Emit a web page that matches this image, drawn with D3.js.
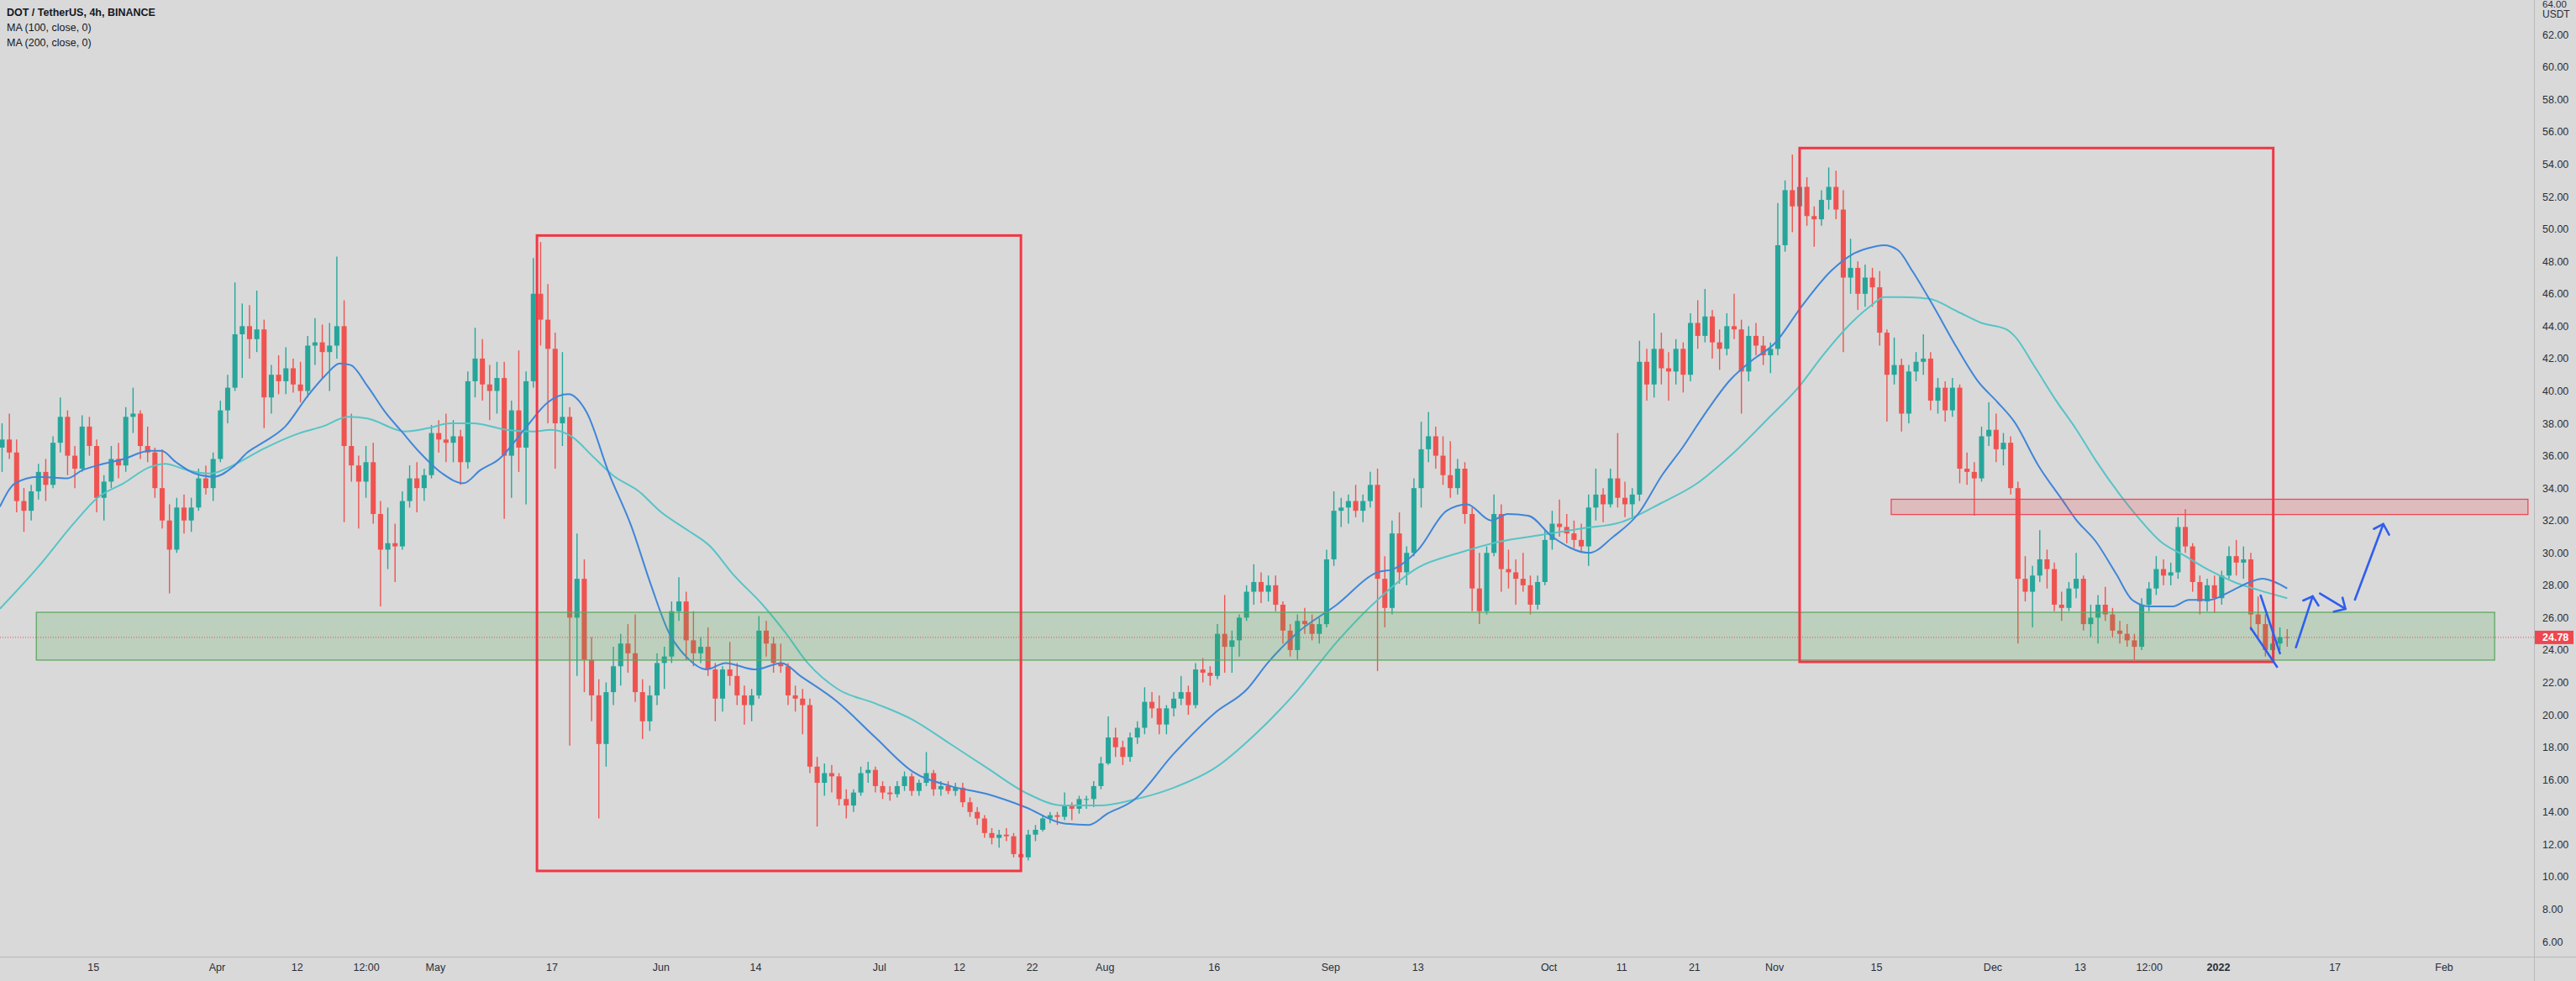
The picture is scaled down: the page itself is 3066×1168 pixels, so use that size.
<!DOCTYPE html>
<html><head><meta charset="utf-8">
<script src="https://cdn.jsdelivr.net/npm/d3@7"></script>
<style>
html,body{margin:0;padding:0;background:#d9d9d9;overflow:hidden}
svg{display:block}
text{font-family:"Liberation Sans",Arial,sans-serif}
</style></head><body>
<svg id="chart" width="3066" height="1168"></svg>
<script>
// ---------------- DATA ----------------
const firstCandle = "2021-03-02";   // daily candles, one per day from here
const openP = [
36.5,37.0,36.2,33.2,32.6,33.8,35.0,34.2,36.8,38.4,36.0,35.2,37.8,36.6,33.4,34.4,35.8,35.4,38.4,38.6,36.6,36.2,34.0,32.0,30.2,32.8,32.0,32.8,34.6,34.0,
35.8,38.8,40.2,43.5,44.0,43.2,43.8,39.6,41.0,40.6,41.4,40.4,40.0,42.8,43.0,42.4,42.8,44.0,36.6,35.4,34.4,35.6,32.4,30.2,30.6,30.4,33.2,34.6,34.0,34.8,
37.4,37.0,36.8,37.2,35.6,40.6,42.0,40.4,40.0,40.8,36.0,38.8,36.5,40.6,46.0,44.4,42.6,38.0,38.4,26.0,28.4,23.4,21.2,18.2,21.4,23.0,24.4,23.8,21.4,19.6,21.2,
23.2,23.6,26.4,27.0,24.6,23.8,24.2,22.8,21.0,22.8,22.4,21.2,20.6,21.2,25.2,24.4,23.2,23.0,21.2,21.0,20.6,16.8,15.8,16.4,16.2,14.8,14.4,15.2,16.4,16.6,
15.6,15.2,15.1,15.6,16.2,15.3,15.8,16.4,15.4,15.6,15.3,15.5,14.6,14.0,13.6,12.7,12.4,12.6,12.5,11.4,11.2,12.6,12.9,13.6,13.8,13.7,14.4,14.2,14.8,14.8,15.6,
17.0,18.6,18.0,17.4,18.6,19.2,20.8,20.4,19.4,20.4,21.0,21.4,20.6,22.8,22.6,22.4,25.0,24.2,24.6,26.0,27.6,28.2,27.6,28.0,26.8,25.2,24.0,25.8,25.6,25.0,25.6,
29.6,32.6,32.8,33.2,32.6,33.2,34.2,28.4,26.6,31.2,28.8,30.0,34.0,36.4,37.2,36.0,34.8,34.0,35.2,32.4,27.8,26.4,30.0,32.4,29.0,28.8,28.4,28.0,26.8,28.2,
30.8,31.8,31.6,31.2,30.8,30.4,32.8,33.6,33.0,34.6,33.4,33.0,33.6,41.8,40.4,42.6,41.4,41.2,42.6,41.0,44.2,43.4,44.6,43.0,42.6,44.0,43.8,41.2,43.4,42.8,42.2,
42.6,49.0,52.4,51.4,52.6,50.8,50.6,51.8,52.6,51.2,47.0,47.6,46.0,47.0,46.4,43.6,41.0,41.6,38.6,41.2,41.8,42.0,39.4,40.2,38.8,40.2,35.2,35.0,34.6,37.2,
37.6,36.4,36.8,34.0,28.4,27.6,28.6,29.6,29.0,26.8,26.6,27.8,28.4,25.6,26.0,26.8,26.2,25.2,25.0,24.6,24.2,26.8,27.8,29.0,28.6,28.8,31.6,30.4,28.2,27.0,28.0,
27.2,28.6,29.8,29.4,29.6,26.2,25.6,24.0,24.4,24.8];
const highP = [
38.0,38.6,37.0,34.0,34.2,35.5,35.8,37.2,39.6,38.8,36.6,38.5,38.4,37.0,34.8,36.6,36.8,39.0,40.2,38.8,37.8,36.5,36.4,33.0,33.4,33.6,33.4,35.2,35.4,36.2,
39.4,41.0,46.7,45.4,45.3,46.2,44.4,41.6,42.2,42.7,42.0,41.8,43.4,44.5,44.1,44.2,48.3,45.6,38.6,36.0,36.6,36.8,33.2,32.8,31.8,33.8,35.4,35.6,35.2,37.9,
38.2,38.6,38.2,37.6,41.2,43.9,43.2,41.6,41.8,41.8,39.4,42.5,41.2,48.2,49.2,46.6,43.6,42.4,39.0,31.2,29.6,24.8,22.2,22.0,24.2,25.0,25.6,26.2,22.2,21.8,23.8,
24.2,27.0,28.5,27.6,26.4,24.8,25.4,23.2,23.0,24.5,23.2,21.8,21.6,26.1,25.8,24.8,24.4,23.2,21.8,21.6,21.0,17.4,17.0,16.9,16.4,15.4,15.4,16.8,17.1,16.8,
15.9,15.6,15.9,16.5,16.4,16.0,17.7,16.6,15.9,15.9,15.8,15.8,14.9,14.3,13.8,13.0,12.9,13.0,12.7,11.8,12.9,13.2,13.8,14.0,14.0,15.2,14.6,15.0,15.0,15.9,17.4,
19.9,19.2,18.4,18.9,19.6,21.7,21.4,21.2,20.6,21.4,22.4,21.8,23.2,23.5,23.0,25.6,27.4,25.2,26.2,28.0,29.3,28.8,28.6,28.6,27.0,25.6,26.2,26.6,26.2,26.0,30.2,
33.8,33.4,33.6,34.2,33.6,35.0,35.2,29.8,32.0,32.5,30.4,34.6,38.1,38.7,37.8,37.2,36.9,35.8,35.6,32.8,30.0,30.4,33.6,33.0,30.2,29.6,30.0,28.6,28.6,31.4,
32.6,33.3,32.4,32.0,31.8,33.6,35.2,34.0,35.2,37.4,34.4,34.0,43.1,42.6,44.8,43.6,42.4,43.2,43.0,44.8,45.6,46.3,45.0,43.8,44.8,46.0,44.4,44.0,44.2,43.4,43.0,
51.6,53.0,54.6,55.0,53.2,51.4,52.4,53.8,53.6,52.4,49.4,48.0,47.8,47.6,47.4,43.8,43.3,42.0,41.6,42.4,43.5,42.4,40.8,40.6,40.8,40.4,36.2,35.6,37.8,39.3,
38.6,37.4,37.2,34.4,29.8,29.2,31.4,30.2,29.4,27.6,28.2,30.0,28.6,26.8,27.4,27.9,26.6,25.8,25.6,25.0,27.2,28.2,29.8,29.6,29.4,32.2,32.7,30.6,28.6,28.4,28.6,
28.9,30.4,30.8,30.4,30.0,27.3,26.2,25.0,25.4,25.3];
const lowP = [
35.0,35.8,32.5,31.3,32.0,33.3,33.2,34.0,36.2,34.8,34.0,35.0,36.0,32.5,32.0,34.0,34.6,35.0,37.4,35.8,35.6,33.4,31.5,27.5,30.0,31.2,31.3,32.6,33.6,33.2,
35.6,38.0,40.0,40.8,42.0,42.4,37.7,38.6,39.8,39.8,39.9,39.3,39.6,41.6,40.8,40.0,42.0,31.9,34.4,31.5,33.4,31.8,26.7,29.0,28.2,30.2,32.8,32.5,33.2,34.6,
36.2,35.6,35.6,34.2,35.2,39.6,39.4,38.2,38.6,32.1,33.4,35.0,33.0,40.2,42.8,38.0,35.2,36.6,18.1,22.4,21.4,19.6,13.6,16.8,20.6,21.8,22.6,20.8,18.5,19.0,20.6,
21.6,23.2,25.8,23.4,23.0,23.2,22.4,19.6,20.2,21.8,20.6,19.4,19.6,21.0,23.6,22.6,22.6,20.6,20.2,18.8,16.4,13.1,15.0,15.2,14.4,13.6,14.0,15.0,15.8,15.2,
14.8,14.7,14.9,15.3,15.0,15.0,15.6,15.0,15.0,15.1,15.0,14.3,13.7,13.2,12.4,12.0,11.8,12.2,11.2,10.4,11.0,12.2,12.8,13.3,13.2,13.5,13.5,13.9,14.2,14.3,15.4,
16.9,17.4,16.9,17.1,18.2,18.8,19.8,18.8,18.8,19.9,20.6,20.0,20.4,22.0,21.8,22.2,22.6,22.6,23.6,25.8,26.8,26.9,27.0,26.4,24.4,23.6,23.4,25.0,24.6,24.4,25.4,
29.2,31.6,31.8,32.2,31.9,32.8,22.7,25.4,26.2,28.1,28.0,29.8,32.8,35.6,35.2,34.2,33.4,33.6,31.8,26.4,25.6,26.2,29.8,27.6,27.8,26.8,27.6,26.2,26.5,28.0,
30.2,31.0,30.6,30.3,30.0,29.2,32.0,31.9,32.8,32.8,32.2,32.1,33.2,39.4,39.6,40.4,39.4,40.4,39.9,40.6,42.6,43.0,42.0,41.3,42.2,43.2,38.6,40.6,42.2,41.6,41.1,
42.2,48.6,49.8,50.4,50.2,48.9,50.2,51.2,50.6,42.4,46.0,45.0,45.2,45.2,42.8,38.1,40.4,37.5,38.0,40.6,41.0,38.8,38.6,38.1,38.4,34.3,34.2,32.3,34.4,36.6,
35.6,35.4,33.6,24.4,27.0,25.4,28.2,27.8,26.4,25.8,26.4,27.2,25.2,24.8,24.4,25.8,24.8,24.4,24.2,23.4,24.0,26.4,27.4,28.0,28.0,28.4,30.0,27.6,26.2,26.4,26.3,
26.8,28.4,28.6,28.4,25.2,24.8,23.6,23.3,24.0,24.2];
const closeP = [
37.0,36.2,33.2,32.6,33.8,35.0,34.2,36.8,38.4,36.0,35.2,37.8,36.6,33.4,34.4,35.8,35.4,38.4,38.6,36.6,36.2,34.0,32.0,30.2,32.8,32.0,32.8,34.6,34.0,35.8,
38.8,40.2,43.5,44.0,43.2,43.8,39.6,41.0,40.6,41.4,40.4,40.0,42.8,43.0,42.4,42.8,44.0,36.6,35.4,34.4,35.6,32.4,30.2,30.6,30.4,33.2,34.6,34.0,34.8,37.4,
37.0,36.8,37.2,35.6,40.6,42.0,40.4,40.0,40.8,36.0,38.8,36.5,40.6,46.0,44.4,42.6,38.0,38.4,26.0,28.4,23.4,21.2,18.2,21.4,23.0,24.4,23.8,21.4,19.6,21.2,23.2,
23.6,26.4,27.0,24.6,23.8,24.2,22.8,21.0,22.8,22.4,21.2,20.6,21.2,25.2,24.4,23.2,23.0,21.2,21.0,20.6,16.8,15.8,16.4,16.2,14.8,14.4,15.2,16.4,16.6,15.6,
15.2,15.1,15.6,16.2,15.3,15.8,16.4,15.4,15.6,15.3,15.5,14.6,14.0,13.6,12.7,12.4,12.6,12.5,11.4,11.2,12.6,12.9,13.6,13.8,13.7,14.4,14.2,14.8,14.8,15.6,17.0,
18.6,18.0,17.4,18.6,19.2,20.8,20.4,19.4,20.4,21.0,21.4,20.6,22.8,22.6,22.4,25.0,24.2,24.6,26.0,27.6,28.2,27.6,28.0,26.8,25.2,24.0,25.8,25.6,25.0,25.6,29.6,
32.6,32.8,33.2,32.6,33.2,34.2,28.4,26.6,31.2,28.8,30.0,34.0,36.4,37.2,36.0,34.8,34.0,35.2,32.4,27.8,26.4,30.0,32.4,29.0,28.8,28.4,28.0,26.8,28.2,30.8,
31.8,31.6,31.2,30.8,30.4,32.8,33.6,33.0,34.6,33.4,33.0,33.6,41.8,40.4,42.6,41.4,41.2,42.6,41.0,44.2,43.4,44.6,43.0,42.6,44.0,43.8,41.2,43.4,42.8,42.2,42.6,
49.0,52.4,51.4,52.6,50.8,50.6,51.8,52.6,51.2,47.0,47.6,46.0,47.0,46.4,43.6,41.0,41.6,38.6,41.2,41.8,42.0,39.4,40.2,38.8,40.2,35.2,35.0,34.6,37.2,37.6,
36.4,36.8,34.0,28.4,27.6,28.6,29.6,29.0,26.8,26.6,27.8,28.4,25.6,26.0,26.8,26.2,25.2,25.0,24.6,24.2,26.8,27.8,29.0,28.6,28.8,31.6,30.4,28.2,27.0,28.0,27.2,
28.6,29.8,29.4,29.6,26.2,25.6,24.0,24.4,24.8,24.78];

// moving averages: [days after 2021-04-01, value]
const ma100 = [[-29.8,32.85],[-27.7,34.3],[-24.6,34.7],[-20.5,34.6],[-18.5,35.1],[-16.4,35.4],[-12.8,35.8],[-9.2,36.3],[-7.6,36.3],[-5.6,35.6],[-3.0,34.9],[-0.4,34.7],[2.2,35.3],[4.2,36.2],[6.3,36.8],[9.4,37.8],[12.5,39.7],[15.0,41.0],[16.9,41.7],[18.4,41.6],[20.7,40.3],[23.3,38.6],[25.4,37.5],[27.9,36.2],[31.0,34.9],[33.9,34.3],[36.2,35.1],[38.8,35.8],[42.4,37.7],[45.5,39.3],[48.3,39.8],[50.8,38.7],[53.9,34.9],[57.0,31.6],[59.6,28.1],[62.1,25.1],[64.7,23.5],[67.3,22.8],[69.9,23.2],[74.0,22.8],[77.6,23.2],[80.2,22.4],[85.3,20.8],[90.5,18.6],[95.6,16.5],[100.8,15.6],[105.9,15.1],[111.1,14.3],[116.3,13.3],[119.8,13.2],[122.4,13.9],[125.9,14.7],[131.5,17.6],[137.1,20.1],[141.6,21.6],[144.4,23.2],[148.3,25.0],[153.9,26.8],[159.5,28.8],[161.7,29.0],[165.1,30.2],[169.0,32.6],[171.8,33.0],[175.1,32.0],[177.4,32.4],[180.2,32.3],[183.5,31.0],[188.6,30.0],[191.9,31.0],[195.3,32.4],[198.6,34.8],[201.4,36.5],[204.2,38.4],[208.0,40.7],[211.0,41.9],[214.0,42.9],[217.9,45.3],[221.8,47.4],[224.6,48.4],[226.8,48.8],[229.1,49.0],[231.0,48.7],[233.0,47.4],[235.8,45.3],[239.2,42.6],[242.0,40.6],[244.7,39.3],[247.0,38.1],[250.3,35.4],[253.7,33.2],[255.4,32.1],[258.2,30.7],[261.0,28.7],[263.2,27.1],[265.5,26.7],[268.8,26.7],[271.0,27.1],[273.9,27.1],[276.6,27.6],[279.4,28.2],[281.1,28.4],[282.8,28.2],[284.5,27.8]];
const ma200 = [[-29.8,26.55],[-24.6,29.1],[-19.5,31.9],[-16.4,33.4],[-12.8,34.3],[-9.2,35.3],[-7.1,35.5],[-4.0,35.1],[-0.9,34.9],[2.2,35.4],[6.3,36.4],[11.4,37.4],[14.5,37.8],[18.1,38.4],[20.7,38.3],[25.9,37.5],[29.0,37.7],[32.1,38.0],[35.2,38.0],[39.8,37.6],[43.4,37.5],[46.0,37.6],[48.7,37.2],[51.8,35.9],[54.4,34.8],[58.0,33.8],[61.1,32.5],[64.7,31.4],[67.8,30.4],[70.9,28.7],[75.0,26.8],[78.1,25.1],[81.2,23.2],[85.3,21.6],[90.5,20.7],[95.6,19.7],[100.8,18.2],[105.9,16.7],[111.1,15.2],[116.3,14.4],[121.4,14.4],[125.9,14.75],[131.5,15.5],[137.1,16.7],[142.7,18.8],[148.3,21.4],[153.9,24.5],[159.5,27.1],[165.1,29.1],[170.7,30.0],[176.3,30.7],[181.9,31.1],[187.5,31.5],[193.0,31.9],[198.6,33.1],[203.1,34.2],[208.0,36.0],[213.4,38.4],[217.3,40.2],[220.7,42.2],[224.6,44.2],[227.4,45.3],[229.1,45.8],[231.3,45.8],[235.2,45.7],[239.2,44.9],[242.5,44.2],[245.9,43.8],[247.0,43.4],[249.8,41.5],[252.6,39.5],[255.4,37.7],[258.2,35.7],[261.5,33.6],[263.8,32.3],[267.1,30.7],[270.5,29.8],[273.9,28.9],[277.2,28.2],[280.6,27.7],[284.5,27.2]];

const priceTicks = [6,8,10,12,14,16,18,20,22,24,26,28,30,32,34,36,38,40,42,44,46,48,50,52,54,56,58,60,62];
const topPriceLabel = "64.00";
const unitLabel = "USDT";
const timeTicks = ["2021-03-15","2021-04-01","2021-04-12","2021-04-21T12:00","2021-05-01","2021-05-17","2021-06-01","2021-06-14","2021-07-01","2021-07-12","2021-07-22","2021-08-01","2021-08-16","2021-09-01","2021-09-13","2021-10-01","2021-10-11","2021-10-21","2021-11-01","2021-11-15","2021-12-01","2021-12-13","2021-12-22T12:00","2022-01-01","2022-01-17","2022-02-01"];
const timeLabels = ["15","Apr","12","12:00","May","17","Jun","14","Jul","12","22","Aug","16","Sep","13","Oct","11","21","Nov","15","Dec","13","12:00","2022","17","Feb"];
const lastPrice = 24.78;
const legendLines = ["DOT / TetherUS, 4h, BINANCE","MA (100, close, 0)","MA (200, close, 0)"];

// drawings: [start, end, top price, bottom price]
const redBoxes = [["2021-05-15T00:00","2021-07-20T12:00",49.6,10.36],["2021-11-04T12:00","2022-01-08T14:00",55.0,23.27]];
const supplyZone = ["2021-11-17T02:00","2022-02-12T14:00",33.31,32.37];
const demandZone = ["2021-03-07T05:00","2022-02-08T00:00",26.33,23.38];
// hand-drawn blue lines: [days after 2021-04-01, price] pairs
const wedgeLines = [[[280.85,27.37],[283.5,23.8]],[[279.5,25.36],[283.1,22.96]]];
const arrowLines = [
  {line:[[285.7,24.17],[288.0,27.32]], head:[[286.7,27.06],[288.0,27.32],[288.8,26.75]]},
  {line:[[289.0,27.49],[292.5,26.54]], head:[[290.9,26.37],[292.5,26.54],[292.1,27.23]]},
  {line:[[293.8,27.11],[297.7,31.78]], head:[[296.4,31.48],[297.7,31.78],[298.5,31.12]]}
];

// ---------------- CHART ----------------
const W = 3066, H = 1168, plotR = 3016, plotB = 1139;
const DAY = 86400000;
const base = Date.UTC(2021,3,1);
const dayDate = d => new Date(base + d*DAY);
const pd = s => new Date(s + (s.length > 10 ? ":00Z" : "T00:00:00Z"));

const x = d3.scaleUtc().domain([dayDate(0), dayDate(275)]).range([258, 2640]);
const y = d3.scaleLinear().domain([6, 62]).range([1121.0, 41.3]);

const svg = d3.select("#chart");
svg.append("rect").attr("width", W).attr("height", H).attr("fill", "#d9d9d9");

svg.append("defs").append("clipPath").attr("id","plotclip")
  .append("rect").attr("x",0).attr("y",0).attr("width",plotR).attr("height",plotB);
const plot = svg.append("g").attr("clip-path","url(#plotclip)");

// candles
const t0 = pd(firstCandle).getTime();
const candles = closeP.map((c,i)=>({t:new Date(t0 + (i+0.5)*DAY), o:openP[i], h:highP[i], l:lowP[i], c:c}));
const step = x(dayDate(1)) - x(dayDate(0));
const bw = step*0.7;
const up = "#26a69a", dn = "#ef5350";
const cg = plot.append("g");
cg.selectAll("line").data(candles).join("line")
  .attr("x1",d=>x(d.t)).attr("x2",d=>x(d.t))
  .attr("y1",d=>y(d.h)).attr("y2",d=>y(d.l))
  .attr("stroke",d=>d.c>=d.o?up:dn).attr("stroke-width",1.4);
cg.selectAll("rect").data(candles).join("rect")
  .attr("x",d=>x(d.t)-bw/2).attr("width",bw)
  .attr("y",d=>y(Math.max(d.o,d.c)))
  .attr("height",d=>Math.max(1,Math.abs(y(d.o)-y(d.c))))
  .attr("fill",d=>d.c>=d.o?up:dn);

// moving averages
const maLine = d3.line().x(d=>x(dayDate(d[0]))).y(d=>y(d[1])).curve(d3.curveMonotoneX);
plot.append("path").attr("d",maLine(ma200)).attr("fill","none").attr("stroke","#56c4c6").attr("stroke-width",2);
plot.append("path").attr("d",maLine(ma100)).attr("fill","none").attr("stroke","#3f86d8").attr("stroke-width",2);

// zones
function zone(z, fill, stroke){
  plot.append("rect")
    .attr("x",x(pd(z[0]))).attr("width",x(pd(z[1]))-x(pd(z[0])))
    .attr("y",y(z[2])).attr("height",y(z[3])-y(z[2]))
    .attr("fill",fill).attr("stroke",stroke).attr("stroke-width",1.3);
}
zone(demandZone,"rgba(76,175,80,0.2)","#5fa862");
zone(supplyZone,"rgba(242,54,69,0.18)","#ef4657");

// last price dotted line
plot.append("line").attr("x1",0).attr("x2",plotR).attr("y1",y(lastPrice)).attr("y2",y(lastPrice))
  .attr("stroke","#ef4657").attr("stroke-width",1).attr("stroke-dasharray","1,2");

// red boxes
redBoxes.forEach(b=>{
  plot.append("rect")
    .attr("x",x(pd(b[0]))).attr("width",x(pd(b[1]))-x(pd(b[0])))
    .attr("y",y(b[2])).attr("height",y(b[3])-y(b[2]))
    .attr("fill","none").attr("stroke","#f23645").attr("stroke-width",3);
});

// blue hand drawings
const pl = d3.line().x(d=>x(dayDate(d[0]))).y(d=>y(d[1]));
const blue = "#2f5ef0";
wedgeLines.forEach(l=>plot.append("path").attr("d",pl(l)).attr("fill","none")
  .attr("stroke",blue).attr("stroke-width",2.6).attr("stroke-linecap","round"));
arrowLines.forEach(a=>{
  plot.append("path").attr("d",pl(a.line)).attr("fill","none")
    .attr("stroke",blue).attr("stroke-width",2.6).attr("stroke-linecap","round");
  plot.append("path").attr("d",pl(a.head)).attr("fill","none")
    .attr("stroke",blue).attr("stroke-width",2.6).attr("stroke-linecap","round").attr("stroke-linejoin","round");
});

// axes separators
svg.append("line").attr("x1",plotR+0.5).attr("x2",plotR+0.5).attr("y1",0).attr("y2",H)
  .attr("stroke","#b9b9b9").attr("stroke-width",1);
svg.append("line").attr("x1",0).attr("x2",W).attr("y1",plotB+0.5).attr("y2",plotB+0.5)
  .attr("stroke","#b9b9b9").attr("stroke-width",1);

// price axis
const yAxis = d3.axisRight(y).tickValues(priceTicks).tickFormat(d3.format(".2f")).tickSize(0).tickPadding(0);
const ya = svg.append("g").attr("transform",`translate(${plotR+10},0)`).call(yAxis);
ya.select(".domain").remove();
ya.selectAll("text").attr("font-size",12.5).attr("fill","#2a2e39").attr("font-family","Liberation Sans, Arial, sans-serif");
svg.append("text").attr("x",plotR+10).attr("y",6).attr("dominant-baseline","middle")
  .attr("font-size",11.5).attr("fill","#2a2e39").text(topPriceLabel);
svg.append("text").attr("x",plotR+10).attr("y",18).attr("dominant-baseline","middle")
  .attr("font-size",12).attr("fill","#2a2e39").text(unitLabel);

// last price label
svg.append("rect").attr("x",plotR+1).attr("y",y(lastPrice)-8).attr("width",46).attr("height",16).attr("fill","#f0464f");
svg.append("text").attr("x",plotR+10).attr("y",y(lastPrice)+0.5).attr("dominant-baseline","middle")
  .attr("font-size",12.5).attr("font-weight","bold").attr("fill","#ffffff").text(d3.format(".2f")(lastPrice));

// time axis
const xAxis = d3.axisBottom(x).tickValues(timeTicks.map(pd))
  .tickFormat((d,i)=>timeLabels[i]).tickSize(0).tickPadding(0);
const xa = svg.append("g").attr("transform",`translate(0,${plotB+8})`).call(xAxis);
xa.select(".domain").remove();
xa.selectAll("text").attr("font-size",12.5).attr("fill","#2a2e39")
  .attr("font-family","Liberation Sans, Arial, sans-serif")
  .attr("font-weight",(d,i)=>timeLabels[i]==="2022"?"bold":"normal");

// legend
const lg = svg.append("g");
legendLines.forEach((t,i)=>{
  lg.append("text").attr("x",8).attr("y",16+i*18).attr("dominant-baseline","middle")
    .attr("font-size",12.5).attr("font-weight",i===0?"bold":"normal").attr("fill","#131722").text(t);
});
</script>
</body></html>
